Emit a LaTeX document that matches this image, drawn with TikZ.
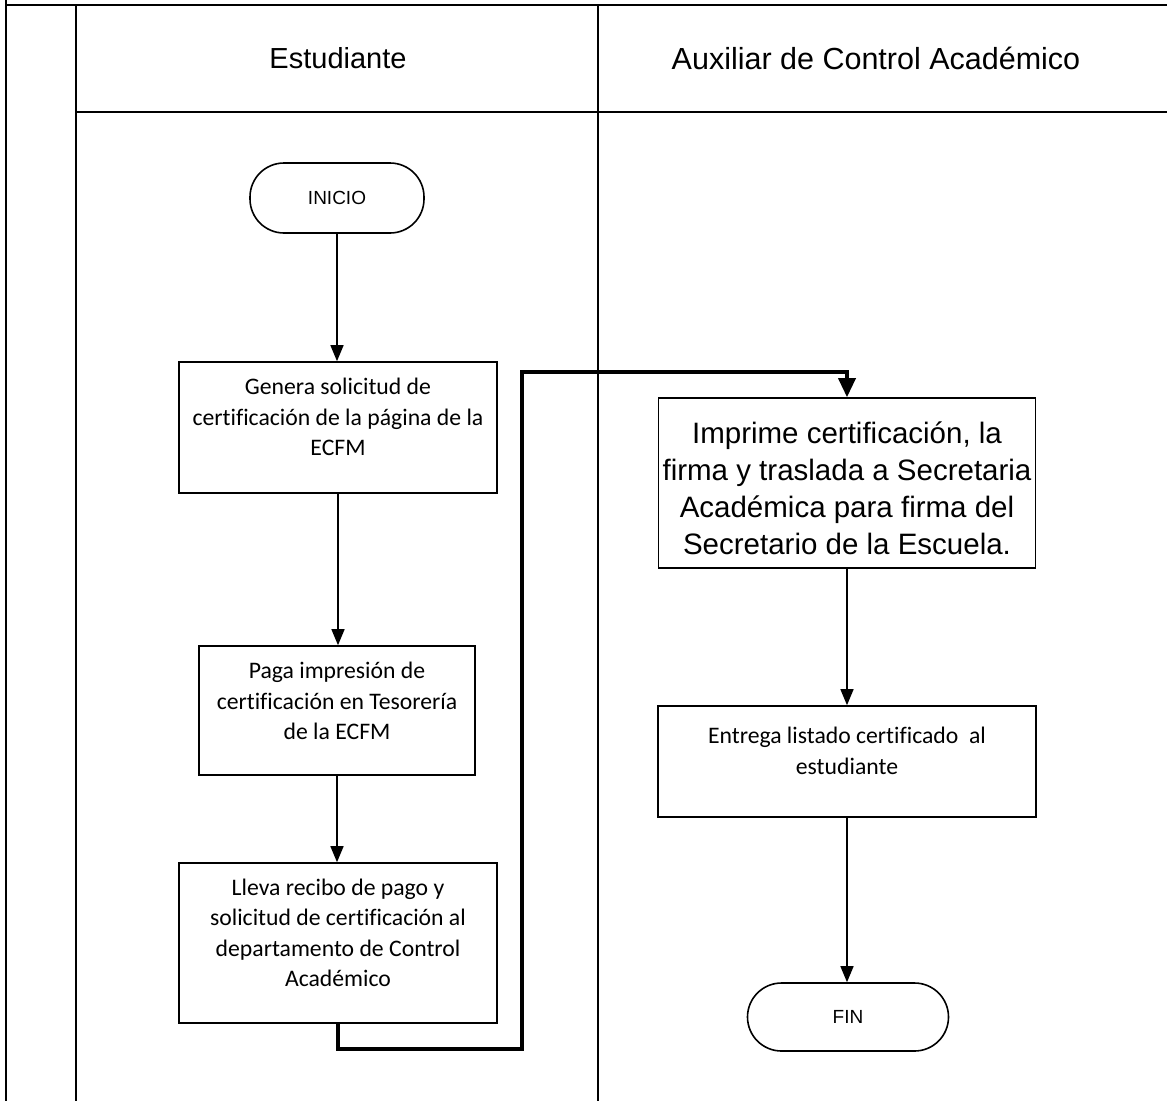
\documentclass[tikz,border=0pt]{standalone}
\usepackage{fontspec}
\setmainfont{Liberation Sans}
\newfontfamily\calib{Carlito}[Ligatures=NoCommon]
\usetikzlibrary{arrows.meta}
\begin{document}
\begin{tikzpicture}[x=1pt,y=-1pt,
  frame/.style={line width=2pt, black},
  hdr/.style={font=\fontsize{29}{34}\selectfont, inner sep=0pt},
  box/.style={draw, line width=1.6pt, rectangle, inner sep=0pt},
  term/.style={draw, line width=1.6pt, rectangle, rounded corners=34pt, inner sep=0pt, font=\fontsize{19}{21}\selectfont},
  txtc/.style={align=center, inner sep=0pt, font=\calib\fontsize{23.7}{30.5}\selectfont},
  txta/.style={align=center, inner sep=0pt, font=\fontsize{29.5}{37}\selectfont},
  flow/.style={-{Triangle[length=16pt,width=13pt]}, line width=1.4pt},
  thickflow/.style={-{Triangle[length=19pt,width=17pt]}, line width=3.5pt}
]
\useasboundingbox (0,0) rectangle (1167,1101);
% frame
\draw[frame] (6,0) -- (6,1101);
\draw[frame] (6,5) -- (1167,5);
\draw[frame] (75.5,5) -- (75.5,1101);
\draw[frame] (598,5) -- (598,1101);
\draw[frame] (75.5,111.5) -- (1167,111.5);
% headers
\node[hdr] (h1) at (338,58) {Estudiante};
\node[hdr, font=\fontsize{30.5}{34}\selectfont] (h2) at (876,58) {Auxiliar de Control Académico};
% nodes
\node[term, minimum width=174pt, minimum height=70pt] (inicio) at (337,198) {INICIO};
\node[box, minimum width=318pt, minimum height=131pt] (b1) at (338,427.5) {};
\node[txtc] (t1) at (338,417) {Genera solicitud de\\certificación de la página de la\\ECFM};
\node[box, minimum width=276pt, minimum height=129pt] (b2) at (337,710.5) {};
\node[txtc] (t2) at (337,701) {Paga impresión de\\certificación en Tesorería\\de la ECFM};
\node[box, minimum width=318pt, minimum height=160pt] (b3) at (338,943) {};
\node[txtc] (t3) at (338,933) {Lleva recibo de pago y\\solicitud de certificación al\\departamento de Control\\Académico};
\node[box, minimum width=377pt, minimum height=170pt] (b4) at (847,483) {};
\node[txta] (t4) at (847,488) {Imprime certificación, la\\firma y traslada a Secretaria\\Académica para firma del\\Secretario de la Escuela.};
\node[box, minimum width=378pt, minimum height=111pt] (b5) at (847,761.5) {};
\node[txtc] (t5) at (847,751) {Entrega listado certificado\ \ al\\estudiante};
\node[term, minimum width=201pt, minimum height=68pt] (fin) at (848,1017) {FIN};
% connectors
\coordinate (c1) at (522,1049);
\coordinate (c2) at (522,372);
\draw[flow] (inicio.south) -- (inicio.south |- b1.north);
\draw[flow] (b1.south) -- (b1.south |- b2.north);
\draw[flow] (b2.south) -- (b2.south |- b3.north);
\draw[thickflow] (b3.south) |- (c1) -- (c2) -| (b4.north);
\draw[flow] (b4.south) -- (b4.south |- b5.north);
\draw[flow] (b5.south) -- (b5.south |- fin.north);
\end{tikzpicture}
\end{document}
